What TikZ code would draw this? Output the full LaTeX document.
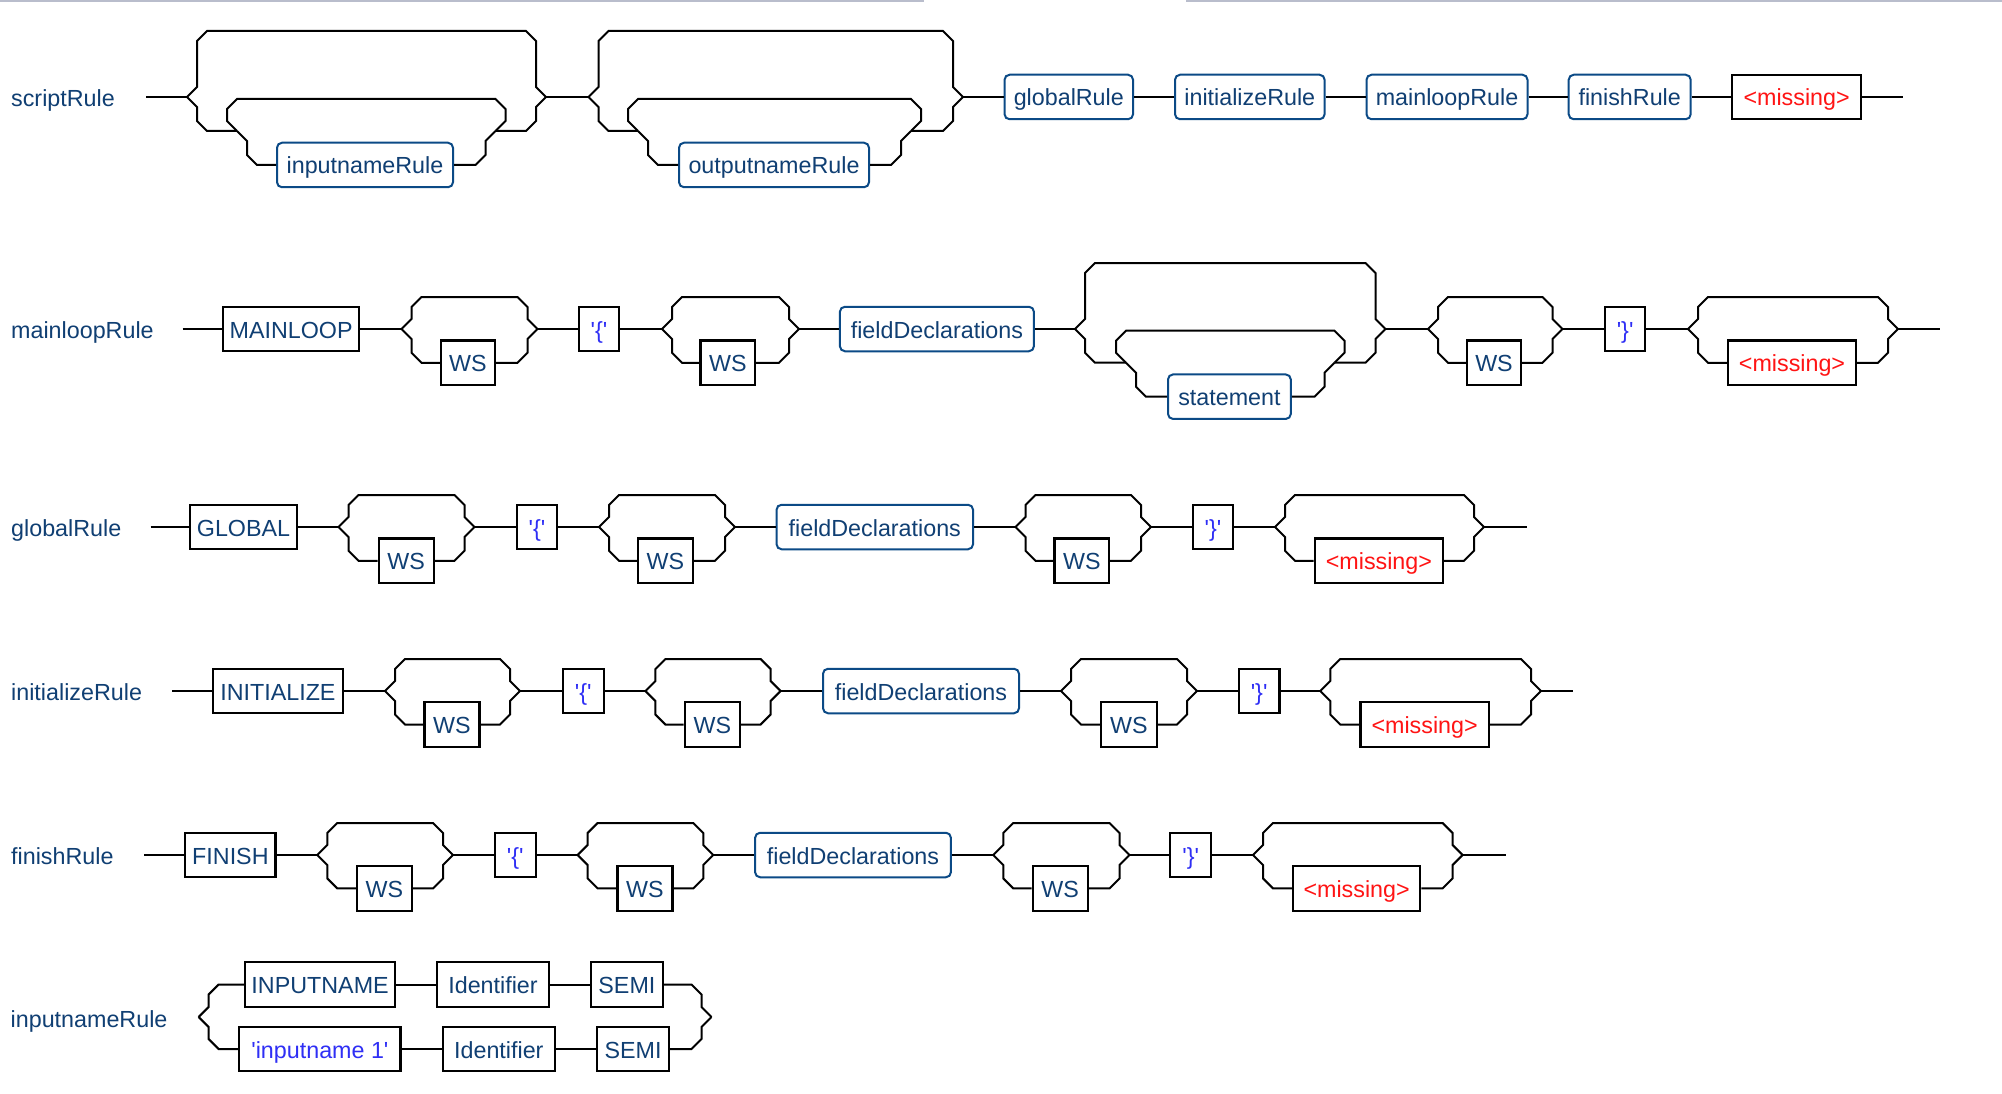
\documentclass[tikz,border=0pt]{standalone}
\usepackage{fontspec}
\setmainfont{Liberation Sans}
\usetikzlibrary{calc}

\definecolor{ink}{HTML}{103F73}
\definecolor{refedge}{HTML}{0B4A86}
\definecolor{litblue}{HTML}{2F2FF5}
\definecolor{missred}{HTML}{FF1414}
\definecolor{barcol}{RGB}{185,189,204}

\newcommand\diagfont{\fontsize{23.3}{28}\selectfont}

\tikzset{
  rail/.style={line width=2pt, black, line join=miter, line cap=butt},
  boxbase/.style={inner sep=0pt, minimum height=44.5pt, text height=18pt,
    text depth=0pt, font=\diagfont, text=ink},
  ruleref/.style={boxbase, draw=refedge, line width=2pt, rounded corners=5pt},
  term/.style={boxbase, draw=black, line width=2.2pt},
  literal/.style={term, text=litblue},
  missing/.style={term, text=missred},
  rulelabel/.style={anchor=west, inner sep=0pt, text height=16.5pt,
    text depth=0pt, font=\diagfont, text=ink},
}

% empty upper path of an optional part: #1 left branch, #2 right branch, #3 rise
\newcommand\skipover[3]{%
  \draw[rail] (#1) -- ++(10,-10) -- ++(0,{20-#3}) -- ++(10,-10)
    -- ($(#2)+(-20,-#3)$) -- ++(10,10) -- ++(0,{#3-20}) -- (#2);}
% lower path through a node: #1 left branch, #2 right branch, #3 node
\newcommand\lowerbranch[3]{%
  \draw[rail] (#1) -- ++(10,10) -- ($(#1|-#3.west)+(10,-10)$)
    -- ($(#1|-#3.west)+(20,0)$) -- (#3.west);
  \draw[rail] (#3.east) -- ($(#2|-#3.east)+(-20,0)$)
    -- ($(#2|-#3.east)+(-10,-10)$) -- ($(#2)+(-10,10)$) -- (#2);}
% lower path of an optional part joining a nested loop: #1 L, #2 R, #3/#4 loop ends
\newcommand\lowerjoin[4]{%
  \draw[rail] (#1) -- ++(10,10) -- ($(#1|-#3)+(10,-10)$)
    -- ($(#1|-#3)+(20,0)$) -- (#3);
  \draw[rail] (#4) -- ($(#2|-#4)+(-20,0)$) -- ++(10,-10)
    -- ($(#2)+(-10,10)$) -- (#2);}
% repetition: item on the lower rail, return path above
\newcommand\loopback[3]{%
  \draw[rail] (#1) -- ++(-10,-10) -- ++(0,-12) -- ++(10,-10)
    -- ($(#2)+(0,-32)$) -- ++(10,10) -- ++(0,12) -- (#2);
  \lowerbranch{#1}{#2}{#3}}
% optional single item
\newcommand\optitem[3]{\skipover{#1}{#2}{32}\lowerbranch{#1}{#2}{#3}}

\begin{document}
\begin{tikzpicture}[x=1pt,y=-1pt]
\useasboundingbox (0,0) rectangle (2002,1094);
\fill[white] (0,0) rectangle (2002,1094);
\fill[barcol] (0,0) rectangle (924,2.5);
\fill[barcol] (1186,0) rectangle (2002,2.5);

% ---------------- scriptRule
\node[rulelabel] (lab1) at (11,98) {scriptRule};
\coordinate (s1) at (146,97);
\coordinate (a1L) at (187,97);   \coordinate (a1R) at (546,97);
\coordinate (a1l) at (237,131);  \coordinate (a1r) at (495.5,131);
\node[ruleref, minimum width=176] (inRef) at (365,165) {inputnameRule};
\coordinate (b1L) at (588.5,97); \coordinate (b1R) at (963,97);
\coordinate (b1l) at (638,131);  \coordinate (b1r) at (911,131);
\node[ruleref, minimum width=190] (outRef) at (774,165) {outputnameRule};
\node[ruleref, minimum width=128.5] (globalRef) at (1068.8,97) {globalRule};
\node[ruleref, minimum width=149.6] (initRef) at (1249.8,97) {initializeRule};
\node[ruleref, minimum width=161] (mainRef) at (1447,97) {mainloopRule};
\node[ruleref, minimum width=122] (finishRef) at (1629.7,97) {finishRule};
\node[missing, minimum width=128.5] (miss1) at (1796.6,97) {<missing>};
\coordinate (e1) at (1903.4,97);

\draw[rail] (s1) -- (a1L);
\skipover{a1L}{a1R}{66}
\lowerjoin{a1L}{a1R}{a1l}{a1r}
\loopback{a1l}{a1r}{inRef}
\draw[rail] (a1R) -- (b1L);
\skipover{b1L}{b1R}{66}
\lowerjoin{b1L}{b1R}{b1l}{b1r}
\loopback{b1l}{b1r}{outRef}
\draw[rail] (b1R) -- (globalRef.west);
\draw[rail] (globalRef.east) -- (initRef.west);
\draw[rail] (initRef.east) -- (mainRef.west);
\draw[rail] (mainRef.east) -- (finishRef.west);
\draw[rail] (finishRef.east) -- (miss1.west);
\draw[rail] (miss1.east) -- (e1);

% ---------------- mainloopRule
\node[rulelabel] (lab2) at (11,330.7) {mainloopRule};
\coordinate (s2) at (182.7,329);
\node[term, minimum width=136.2] (kwMain) at (291.1,329) {MAINLOOP};
\coordinate (c21L) at (401.5,329); \coordinate (c21R) at (537.5,329);
\node[term, minimum width=54] (ws21) at (467.9,362.8) {WS};
\node[literal, minimum width=40] (lb2) at (599,329) {\textquotesingle\{\textquotesingle};
\coordinate (c22L) at (662,329); \coordinate (c22R) at (799,329);
\node[term, minimum width=54.6] (ws22) at (727.8,362.8) {WS};
\node[ruleref, minimum width=194] (fd2) at (936.9,329) {fieldDeclarations};
\coordinate (c23L) at (1075,329); \coordinate (c23R) at (1385.5,329);
\coordinate (c23l) at (1126,362.7); \coordinate (c23r) at (1334.5,362.7);
\node[ruleref, minimum width=122.8] (stmt) at (1229.4,396.7) {statement};
\coordinate (c24L) at (1428,329); \coordinate (c24R) at (1562.5,329);
\node[term, minimum width=54] (ws24) at (1494,362.8) {WS};
\node[literal, minimum width=40] (rb2) at (1625.1,329) {\textquotesingle\}\textquotesingle};
\coordinate (c25L) at (1688,329); \coordinate (c25R) at (1898,329);
\node[missing, minimum width=128] (miss2) at (1792,362.8) {<missing>};
\coordinate (e2) at (1940,329);

\draw[rail] (s2) -- (kwMain.west);
\draw[rail] (kwMain.east) -- (c21L);
\optitem{c21L}{c21R}{ws21}
\draw[rail] (c21R) -- (lb2.west);
\draw[rail] (lb2.east) -- (c22L);
\optitem{c22L}{c22R}{ws22}
\draw[rail] (c22R) -- (fd2.west);
\draw[rail] (fd2.east) -- (c23L);
\skipover{c23L}{c23R}{66}
\lowerjoin{c23L}{c23R}{c23l}{c23r}
\loopback{c23l}{c23r}{stmt}
\draw[rail] (c23R) -- (c24L);
\optitem{c24L}{c24R}{ws24}
\draw[rail] (c24R) -- (rb2.west);
\draw[rail] (rb2.east) -- (c25L);
\optitem{c25L}{c25R}{miss2}
\draw[rail] (c25R) -- (e2);

% ---------------- globalRule
\node[rulelabel] (lab3) at (11,528) {globalRule};
\coordinate (s3) at (150.5,527);
\node[term, minimum width=107] (kwGlobal) at (243.5,527) {GLOBAL};
\coordinate (c31L) at (338.5,527); \coordinate (c31R) at (474.5,527);
\node[term, minimum width=55] (ws31) at (406.2,560.8) {WS};
\node[literal, minimum width=40] (lb3) at (537,527) {\textquotesingle\{\textquotesingle};
\coordinate (c32L) at (599,527); \coordinate (c32R) at (735,527);
\node[term, minimum width=55] (ws32) at (665.4,560.8) {WS};
\node[ruleref, minimum width=196.5] (fd3) at (874.8,527) {fieldDeclarations};
\coordinate (c33L) at (1015.5,527); \coordinate (c33R) at (1151,527);
\node[term, minimum width=54.5] (ws33) at (1081.8,560.8) {WS};
\node[literal, minimum width=40] (rb3) at (1213,527) {\textquotesingle\}\textquotesingle};
\coordinate (c34L) at (1275,527); \coordinate (c34R) at (1484,527);
\node[missing, minimum width=128.3] (miss3) at (1378.9,560.8) {<missing>};
\coordinate (e3) at (1527,527);

\draw[rail] (s3) -- (kwGlobal.west);
\draw[rail] (kwGlobal.east) -- (c31L);
\optitem{c31L}{c31R}{ws31}
\draw[rail] (c31R) -- (lb3.west);
\draw[rail] (lb3.east) -- (c32L);
\optitem{c32L}{c32R}{ws32}
\draw[rail] (c32R) -- (fd3.west);
\draw[rail] (fd3.east) -- (c33L);
\optitem{c33L}{c33R}{ws33}
\draw[rail] (c33R) -- (rb3.west);
\draw[rail] (rb3.east) -- (c34L);
\optitem{c34L}{c34R}{miss3}
\draw[rail] (c34R) -- (e3);

% ---------------- initializeRule
\node[rulelabel] (lab4) at (11,692.7) {initializeRule};
\coordinate (s4) at (172.4,691);
\node[term, minimum width=130] (kwInit) at (277.9,691) {INITIALIZE};
\coordinate (c41L) at (385,691); \coordinate (c41R) at (520,691);
\node[term, minimum width=55] (ws41) at (452,724.5) {WS};
\node[literal, minimum width=40.8] (lb4) at (583.2,691) {\textquotesingle\{\textquotesingle};
\coordinate (c42L) at (645.4,691); \coordinate (c42R) at (780.6,691);
\node[term, minimum width=55] (ws42) at (712.3,724.5) {WS};
\node[ruleref, minimum width=196] (fd4) at (921,691) {fieldDeclarations};
\coordinate (c43L) at (1061,691); \coordinate (c43R) at (1197,691);
\node[term, minimum width=55.6] (ws43) at (1128.8,724.5) {WS};
\node[literal, minimum width=40.8] (rb4) at (1259.1,691) {\textquotesingle\}\textquotesingle};
\coordinate (c44L) at (1320.3,691); \coordinate (c44R) at (1541,691);
\node[missing, minimum width=128.2] (miss4) at (1424.6,724.5) {<missing>};
\coordinate (e4) at (1573.4,691);

\draw[rail] (s4) -- (kwInit.west);
\draw[rail] (kwInit.east) -- (c41L);
\optitem{c41L}{c41R}{ws41}
\draw[rail] (c41R) -- (lb4.west);
\draw[rail] (lb4.east) -- (c42L);
\optitem{c42L}{c42R}{ws42}
\draw[rail] (c42R) -- (fd4.west);
\draw[rail] (fd4.east) -- (c43L);
\optitem{c43L}{c43R}{ws43}
\draw[rail] (c43R) -- (rb4.west);
\draw[rail] (rb4.east) -- (c44L);
\optitem{c44L}{c44R}{miss4}
\draw[rail] (c44R) -- (e4);

% ---------------- finishRule
\node[rulelabel] (lab5) at (11,856.7) {finishRule};
\coordinate (s5) at (144.4,855);
\node[term, minimum width=90.3] (kwFinish) at (230.4,855) {FINISH};
\coordinate (c51L) at (317.3,855); \coordinate (c51R) at (453,855);
\node[term, minimum width=55] (ws51) at (384.5,888.4) {WS};
\node[literal, minimum width=40.8] (lb5) at (515.3,855) {\textquotesingle\{\textquotesingle};
\coordinate (c52L) at (577.6,855); \coordinate (c52R) at (713.3,855);
\node[term, minimum width=55] (ws52) at (644.9,888.4) {WS};
\node[ruleref, minimum width=195.8] (fd5) at (853,855) {fieldDeclarations};
\coordinate (c53L) at (993.3,855); \coordinate (c53R) at (1129.5,855);
\node[term, minimum width=55] (ws53) at (1060.1,888.4) {WS};
\node[literal, minimum width=40.7] (rb5) at (1190.7,855) {\textquotesingle\}\textquotesingle};
\coordinate (c54L) at (1253,855); \coordinate (c54R) at (1462.6,855);
\node[missing, minimum width=127.5] (miss5) at (1356.6,888.4) {<missing>};
\coordinate (e5) at (1505.5,855);

\draw[rail] (s5) -- (kwFinish.west);
\draw[rail] (kwFinish.east) -- (c51L);
\optitem{c51L}{c51R}{ws51}
\draw[rail] (c51R) -- (lb5.west);
\draw[rail] (lb5.east) -- (c52L);
\optitem{c52L}{c52R}{ws52}
\draw[rail] (c52R) -- (fd5.west);
\draw[rail] (fd5.east) -- (c53L);
\optitem{c53L}{c53R}{ws53}
\draw[rail] (c53R) -- (rb5.west);
\draw[rail] (rb5.east) -- (c54L);
\optitem{c54L}{c54R}{miss5}
\draw[rail] (c54R) -- (e5);

% ---------------- inputnameRule
\node[rulelabel] (lab6) at (10.5,1019) {inputnameRule};
\coordinate (c6L) at (198.6,1017); \coordinate (c6R) at (711.5,1017);
\node[term, minimum width=150.2] (kwIn) at (320.1,984.5) {INPUTNAME};
\node[term, minimum width=112.5] (idA) at (493,984.5) {Identifier};
\node[term, minimum width=71.7] (semiA) at (626.9,984.5) {SEMI};
\node[literal, minimum width=161.3] (litIn) at (319.9,1049) {\textquotesingle inputname 1\textquotesingle};
\node[term, minimum width=112.4] (idB) at (498.8,1049) {Identifier};
\node[term, minimum width=72] (semiB) at (633,1049) {SEMI};

\draw[rail] (c6L) -- ++(10,-10) -- ($(c6L|-kwIn.west)+(10,10)$)
  -- ($(c6L|-kwIn.west)+(20,0)$) -- (kwIn.west);
\draw[rail] (kwIn.east) -- (idA.west);
\draw[rail] (idA.east) -- (semiA.west);
\draw[rail] (semiA.east) -- ($(c6R|-semiA.east)+(-20,0)$)
  -- ($(c6R|-semiA.east)+(-10,10)$) -- ($(c6R)+(-10,-10)$) -- (c6R);
\draw[rail] (c6L) -- ++(10,10) -- ($(c6L|-litIn.west)+(10,-10)$)
  -- ($(c6L|-litIn.west)+(20,0)$) -- (litIn.west);
\draw[rail] (litIn.east) -- (idB.west);
\draw[rail] (idB.east) -- (semiB.west);
\draw[rail] (semiB.east) -- ($(c6R|-semiB.east)+(-20,0)$)
  -- ($(c6R|-semiB.east)+(-10,-10)$) -- ($(c6R)+(-10,10)$) -- (c6R);
\end{tikzpicture}
\end{document}
